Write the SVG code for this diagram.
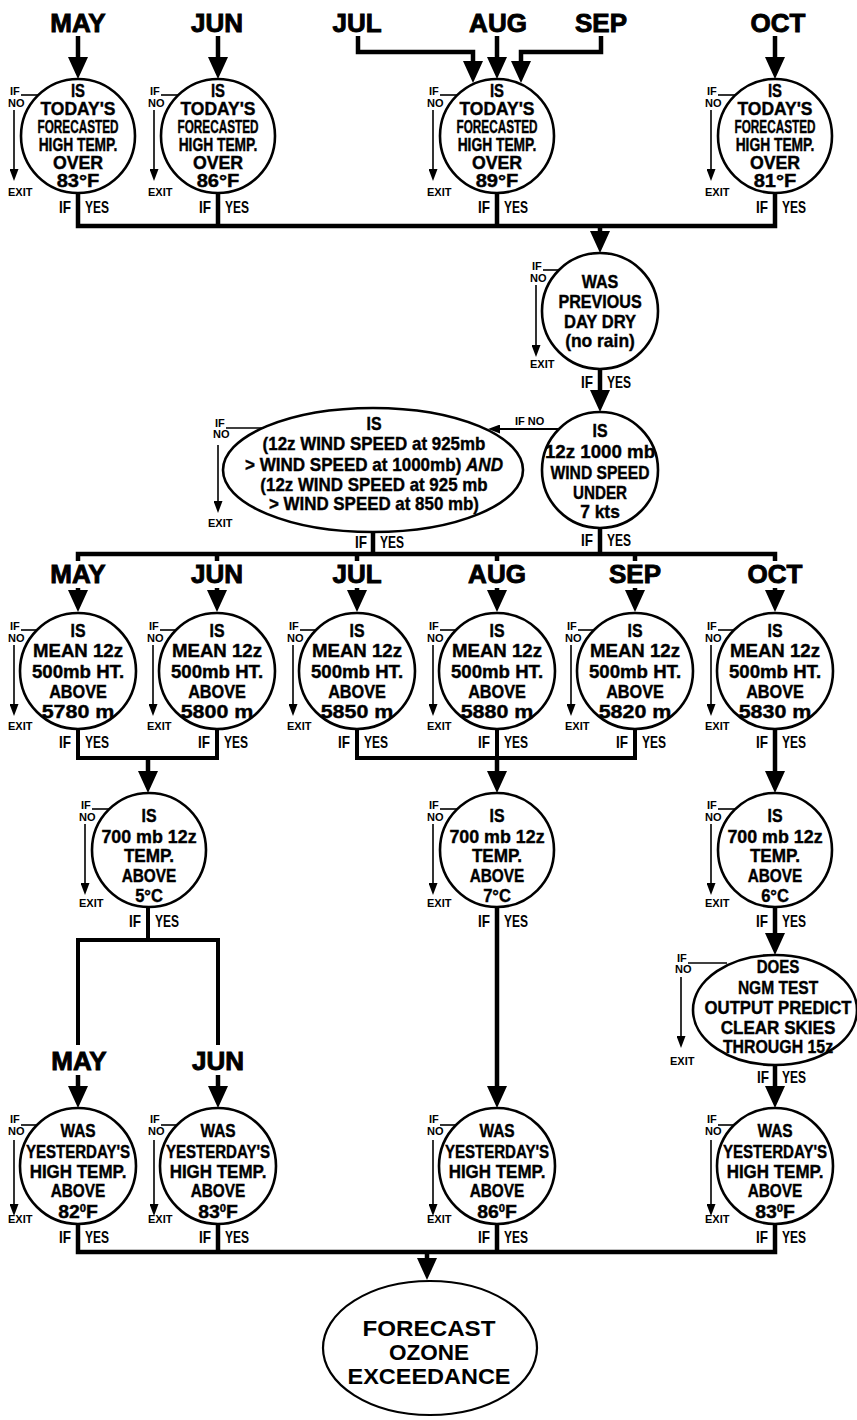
<svg xmlns="http://www.w3.org/2000/svg" width="857" height="1420" viewBox="0 0 857 1420">
<defs>
<style>
text{font-family:"Liberation Sans",Arial,Helvetica,sans-serif;font-weight:bold;fill:#000}
.t{font-size:19px;text-anchor:middle;stroke:#000;stroke-width:0.4}
.tt{font-size:17.5px}
.m{font-size:26px;text-anchor:middle;stroke:#000;stroke-width:0.9}
.s{font-size:11px}
.y{font-size:17px}
.e{text-anchor:end}
.f{font-size:21.5px;text-anchor:middle}
.c{fill:#fff;stroke:#000;stroke-width:2.6}
.c2{fill:#fff;stroke:#000;stroke-width:2.2}
.w{fill:none;stroke:#000;stroke-width:4.5}
.b{fill:none;stroke:#000;stroke-width:4}
.n{fill:none;stroke:#000;stroke-width:1.6}
.sup{font-size:11px}
</style>
<marker id="A" viewBox="0 -10 22 20" refX="14" refY="0" markerWidth="22" markerHeight="20" markerUnits="userSpaceOnUse" orient="auto"><path d="M0,-10 L22,0 L0,10 z" fill="#000"/></marker>
<marker id="a" viewBox="0 -4.5 12 9" refX="8" refY="0" markerWidth="12" markerHeight="9" markerUnits="userSpaceOnUse" orient="auto"><path d="M0,-4.5 L12,0 L0,4.5 z" fill="#000"/></marker>
</defs>
<rect width="857" height="1420" fill="#fff"/>

<g id="months">
<text class="m" x="78" y="32">MAY</text>
<text class="m" x="217" y="32">JUN</text>
<text class="m" x="357" y="32">JUL</text>
<text class="m" x="498" y="32">AUG</text>
<text class="m" x="601" y="32">SEP</text>
<text class="m" x="778" y="32">OCT</text>
<text class="m" x="78" y="583">MAY</text>
<text class="m" x="217" y="583">JUN</text>
<text class="m" x="357" y="583">JUL</text>
<text class="m" x="497" y="583">AUG</text>
<text class="m" x="635" y="583">SEP</text>
<text class="m" x="775" y="583">OCT</text>
<text class="m" x="79" y="1070">MAY</text>
<text class="m" x="218" y="1070">JUN</text>
</g>

<g id="connectors">
<line class="w" x1="78" y1="36" x2="78" y2="71" marker-end="url(#A)"/>
<line class="w" x1="218" y1="36" x2="218" y2="71" marker-end="url(#A)"/>
<line class="w" x1="497" y1="36" x2="497" y2="71" marker-end="url(#A)"/>
<line class="w" x1="775" y1="36" x2="775" y2="71" marker-end="url(#A)"/>
<path class="w" d="M358,36 V52 H473 V75" marker-end="url(#A)"/>
<path class="w" d="M601,36 V52 H521 V75" marker-end="url(#A)"/>
<path class="w" d="M78,193 V226 H775 V193 M218,193 V226 M497,193 V226"/>
<line class="w" x1="600" y1="226" x2="600" y2="245" marker-end="url(#A)"/>
<line class="w" x1="600" y1="369" x2="600" y2="404" marker-end="url(#A)"/>
<line class="n" x1="560" y1="429" x2="492" y2="429" style="stroke-width:2" marker-end="url(#a)"/>
<text class="s" x="515" y="425">IF NO</text>
<path class="w" d="M78,561 V554 H775 V561 M600,528 V554 M373,532 V554 M217,554 V561 M357,554 V561 M497,554 V561 M635,554 V561"/>
<line class="w" x1="78" y1="588" x2="78" y2="604" marker-end="url(#A)"/>
<line class="w" x1="217" y1="588" x2="217" y2="604" marker-end="url(#A)"/>
<line class="w" x1="357" y1="588" x2="357" y2="604" marker-end="url(#A)"/>
<line class="w" x1="497" y1="588" x2="497" y2="604" marker-end="url(#A)"/>
<line class="w" x1="635" y1="588" x2="635" y2="604" marker-end="url(#A)"/>
<line class="w" x1="775" y1="588" x2="775" y2="604" marker-end="url(#A)"/>
<path class="b" d="M78,729 V758 H217 V729 M357,729 V758 H635 V729 M497,729 V758"/>
<line class="w" x1="148" y1="758" x2="148" y2="785" marker-end="url(#A)"/>
<line class="w" x1="497" y1="758" x2="497" y2="785" marker-end="url(#A)"/>
<line class="w" x1="775" y1="729" x2="775" y2="785" marker-end="url(#A)"/>
<path class="b" d="M148,907 V940 M78,1045 V940 H218 V1045"/>
<line class="w" x1="78" y1="1075" x2="78" y2="1100" marker-end="url(#A)"/>
<line class="w" x1="218" y1="1075" x2="218" y2="1100" marker-end="url(#A)"/>
<line class="w" x1="497" y1="907" x2="497" y2="1100" marker-end="url(#A)"/>
<line class="w" x1="775" y1="907" x2="775" y2="947" marker-end="url(#A)"/>
<line class="w" x1="775" y1="1065" x2="775" y2="1100" marker-end="url(#A)"/>
<path class="w" d="M78,1224 V1252 H775 V1224 M218,1224 V1252 M497,1224 V1252"/>
<line class="w" x1="427" y1="1252" x2="427" y2="1272" marker-end="url(#A)"/>
</g>

<g id="q-may-today" transform="translate(78,136)">
<circle class="c" r="57"/>
<g transform="scale(0.75,1)">
<text class="t tt" y="-39" textLength="18.7" lengthAdjust="spacingAndGlyphs">IS</text>
<text class="t tt" y="-21" textLength="100" lengthAdjust="spacingAndGlyphs">TODAY'S</text>
<text class="t tt" y="-3" textLength="108" lengthAdjust="spacingAndGlyphs">FORECASTED</text>
<text class="t tt" y="15" textLength="105" lengthAdjust="spacingAndGlyphs">HIGH TEMP.</text>
<text class="t tt" y="33" textLength="67" lengthAdjust="spacingAndGlyphs">OVER</text>
<text class="t tt" y="51" textLength="57" lengthAdjust="spacingAndGlyphs">83°F</text>
</g>
<text class="s" x="-68" y="-41">IF</text><path class="n" d="M-57,-41 H-39"/>
<text class="s" x="-70" y="-29">NO</text>
<line class="n" x1="-64" y1="-26" x2="-64" y2="41" marker-end="url(#a)"/>
<text class="s" x="-70" y="60">EXIT</text>
<text class="y e" x="-7" y="77" textLength="12" lengthAdjust="spacingAndGlyphs">IF</text>
<text class="y" x="7" y="77" textLength="24" lengthAdjust="spacingAndGlyphs">YES</text>
</g>

<g id="q-jun-today" transform="translate(218,136)">
<circle class="c" r="57"/>
<g transform="scale(0.75,1)">
<text class="t tt" y="-39" textLength="18.7" lengthAdjust="spacingAndGlyphs">IS</text>
<text class="t tt" y="-21" textLength="100" lengthAdjust="spacingAndGlyphs">TODAY'S</text>
<text class="t tt" y="-3" textLength="108" lengthAdjust="spacingAndGlyphs">FORECASTED</text>
<text class="t tt" y="15" textLength="105" lengthAdjust="spacingAndGlyphs">HIGH TEMP.</text>
<text class="t tt" y="33" textLength="67" lengthAdjust="spacingAndGlyphs">OVER</text>
<text class="t tt" y="51" textLength="57" lengthAdjust="spacingAndGlyphs">86°F</text>
</g>
<text class="s" x="-68" y="-41">IF</text><path class="n" d="M-57,-41 H-39"/>
<text class="s" x="-70" y="-29">NO</text>
<line class="n" x1="-64" y1="-26" x2="-64" y2="41" marker-end="url(#a)"/>
<text class="s" x="-70" y="60">EXIT</text>
<text class="y e" x="-7" y="77" textLength="12" lengthAdjust="spacingAndGlyphs">IF</text>
<text class="y" x="7" y="77" textLength="24" lengthAdjust="spacingAndGlyphs">YES</text>
</g>

<g id="q-julsep-today" transform="translate(497,136)">
<circle class="c" r="57"/>
<g transform="scale(0.75,1)">
<text class="t tt" y="-39" textLength="18.7" lengthAdjust="spacingAndGlyphs">IS</text>
<text class="t tt" y="-21" textLength="100" lengthAdjust="spacingAndGlyphs">TODAY'S</text>
<text class="t tt" y="-3" textLength="108" lengthAdjust="spacingAndGlyphs">FORECASTED</text>
<text class="t tt" y="15" textLength="105" lengthAdjust="spacingAndGlyphs">HIGH TEMP.</text>
<text class="t tt" y="33" textLength="67" lengthAdjust="spacingAndGlyphs">OVER</text>
<text class="t tt" y="51" textLength="57" lengthAdjust="spacingAndGlyphs">89°F</text>
</g>
<text class="s" x="-68" y="-41">IF</text><path class="n" d="M-57,-41 H-39"/>
<text class="s" x="-70" y="-29">NO</text>
<line class="n" x1="-64" y1="-26" x2="-64" y2="41" marker-end="url(#a)"/>
<text class="s" x="-70" y="60">EXIT</text>
<text class="y e" x="-7" y="77" textLength="12" lengthAdjust="spacingAndGlyphs">IF</text>
<text class="y" x="7" y="77" textLength="24" lengthAdjust="spacingAndGlyphs">YES</text>
</g>

<g id="q-oct-today" transform="translate(775,136)">
<circle class="c" r="57"/>
<g transform="scale(0.75,1)">
<text class="t tt" y="-39" textLength="18.7" lengthAdjust="spacingAndGlyphs">IS</text>
<text class="t tt" y="-21" textLength="100" lengthAdjust="spacingAndGlyphs">TODAY'S</text>
<text class="t tt" y="-3" textLength="108" lengthAdjust="spacingAndGlyphs">FORECASTED</text>
<text class="t tt" y="15" textLength="105" lengthAdjust="spacingAndGlyphs">HIGH TEMP.</text>
<text class="t tt" y="33" textLength="67" lengthAdjust="spacingAndGlyphs">OVER</text>
<text class="t tt" y="51" textLength="57" lengthAdjust="spacingAndGlyphs">81°F</text>
</g>
<text class="s" x="-68" y="-41">IF</text><path class="n" d="M-57,-41 H-39"/>
<text class="s" x="-70" y="-29">NO</text>
<line class="n" x1="-64" y1="-26" x2="-64" y2="41" marker-end="url(#a)"/>
<text class="s" x="-70" y="60">EXIT</text>
<text class="y e" x="-7" y="77" textLength="12" lengthAdjust="spacingAndGlyphs">IF</text>
<text class="y" x="7" y="77" textLength="24" lengthAdjust="spacingAndGlyphs">YES</text>
</g>

<g id="q-dry" transform="translate(600,311)">
<circle class="c" r="58"/>
<g transform="scale(0.75,1)">
<text class="t" y="-23" textLength="49" lengthAdjust="spacingAndGlyphs">WAS</text>
<text class="t" y="-3" textLength="111" lengthAdjust="spacingAndGlyphs">PREVIOUS</text>
<text class="t" y="17" textLength="96" lengthAdjust="spacingAndGlyphs">DAY DRY</text>
<text class="t" y="36" textLength="93" lengthAdjust="spacingAndGlyphs">(no rain)</text>
</g>
<text class="s" x="-68" y="-41">IF</text><path class="n" d="M-57,-41 H-40"/>
<text class="s" x="-70" y="-29">NO</text>
<line class="n" x1="-64" y1="-26" x2="-64" y2="42" marker-end="url(#a)"/>
<text class="s" x="-70" y="57">EXIT</text>
<text class="y e" x="-7" y="77" textLength="12" lengthAdjust="spacingAndGlyphs">IF</text>
<text class="y" x="7" y="77" textLength="24" lengthAdjust="spacingAndGlyphs">YES</text>
</g>

<g id="q-wind1000" transform="translate(600,470)">
<circle class="c" r="58"/>
<g transform="scale(0.75,1)">
<text class="t" y="-33" textLength="20" lengthAdjust="spacingAndGlyphs">IS</text>
<text class="t" y="-12" textLength="147" lengthAdjust="spacingAndGlyphs">12z 1000 mb</text>
<text class="t" y="9" textLength="132" lengthAdjust="spacingAndGlyphs">WIND SPEED</text>
<text class="t" y="29" textLength="72" lengthAdjust="spacingAndGlyphs">UNDER</text>
<text class="t" y="48" textLength="53" lengthAdjust="spacingAndGlyphs">7 kts</text>
</g>
<text class="y e" x="-7" y="76" textLength="12" lengthAdjust="spacingAndGlyphs">IF</text>
<text class="y" x="7" y="76" textLength="24" lengthAdjust="spacingAndGlyphs">YES</text>
</g>

<g id="q-wind-profile" transform="translate(373,470)">
<ellipse class="c" rx="150" ry="62"/>
<g transform="scale(0.75,1)">
<text class="t" x="1.3" y="-40" textLength="20" lengthAdjust="spacingAndGlyphs">IS</text>
<text class="t" x="1.3" y="-20" textLength="297" lengthAdjust="spacingAndGlyphs">(12z WIND SPEED at 925mb</text>
<text class="t" x="1.3" y="1" textLength="344" lengthAdjust="spacingAndGlyphs">&gt; WIND SPEED at 1000mb) <tspan font-style="italic">AND</tspan></text>
<text class="t" x="1.3" y="21" textLength="303" lengthAdjust="spacingAndGlyphs">(12z WIND SPEED at 925 mb</text>
<text class="t" x="1.3" y="40" textLength="280" lengthAdjust="spacingAndGlyphs">&gt; WIND SPEED at 850 mb)</text>
</g>
<text class="s" x="-158" y="-43">IF</text><path class="n" d="M-147,-42 H-109"/>
<text class="s" x="-160" y="-32">NO</text>
<line class="n" x1="-155" y1="-25" x2="-155" y2="39" marker-end="url(#a)"/>
<text class="s" x="-165" y="57">EXIT</text>
<text class="y e" x="-6" y="78" textLength="12" lengthAdjust="spacingAndGlyphs">IF</text>
<text class="y" x="7" y="78" textLength="24" lengthAdjust="spacingAndGlyphs">YES</text>
</g>

<g id="q-500-may" transform="translate(78,671)">
<circle class="c" r="58"/>
<g transform="scale(0.75,1)">
<text class="t" y="-34" textLength="20" lengthAdjust="spacingAndGlyphs">IS</text>
<text class="t" y="-14" textLength="120" lengthAdjust="spacingAndGlyphs">MEAN 12z</text>
<text class="t" y="7" textLength="123" lengthAdjust="spacingAndGlyphs">500mb HT.</text>
<text class="t" y="27" textLength="77" lengthAdjust="spacingAndGlyphs">ABOVE</text>
<text class="t" y="47" textLength="97" lengthAdjust="spacingAndGlyphs">5780 m</text>
</g>
<text class="s" x="-68" y="-41">IF</text><path class="n" d="M-57,-41 H-40"/>
<text class="s" x="-70" y="-29">NO</text>
<line class="n" x1="-64" y1="-26" x2="-64" y2="41" marker-end="url(#a)"/>
<text class="s" x="-70" y="59">EXIT</text>
<text class="y e" x="-7" y="77" textLength="12" lengthAdjust="spacingAndGlyphs">IF</text>
<text class="y" x="7" y="77" textLength="24" lengthAdjust="spacingAndGlyphs">YES</text>
</g>

<g id="q-500-jun" transform="translate(217,671)">
<circle class="c" r="58"/>
<g transform="scale(0.75,1)">
<text class="t" y="-34" textLength="20" lengthAdjust="spacingAndGlyphs">IS</text>
<text class="t" y="-14" textLength="120" lengthAdjust="spacingAndGlyphs">MEAN 12z</text>
<text class="t" y="7" textLength="123" lengthAdjust="spacingAndGlyphs">500mb HT.</text>
<text class="t" y="27" textLength="77" lengthAdjust="spacingAndGlyphs">ABOVE</text>
<text class="t" y="47" textLength="97" lengthAdjust="spacingAndGlyphs">5800 m</text>
</g>
<text class="s" x="-68" y="-41">IF</text><path class="n" d="M-57,-41 H-40"/>
<text class="s" x="-70" y="-29">NO</text>
<line class="n" x1="-64" y1="-26" x2="-64" y2="41" marker-end="url(#a)"/>
<text class="s" x="-70" y="59">EXIT</text>
<text class="y e" x="-7" y="77" textLength="12" lengthAdjust="spacingAndGlyphs">IF</text>
<text class="y" x="7" y="77" textLength="24" lengthAdjust="spacingAndGlyphs">YES</text>
</g>

<g id="q-500-jul" transform="translate(357,671)">
<circle class="c" r="58"/>
<g transform="scale(0.75,1)">
<text class="t" y="-34" textLength="20" lengthAdjust="spacingAndGlyphs">IS</text>
<text class="t" y="-14" textLength="120" lengthAdjust="spacingAndGlyphs">MEAN 12z</text>
<text class="t" y="7" textLength="123" lengthAdjust="spacingAndGlyphs">500mb HT.</text>
<text class="t" y="27" textLength="77" lengthAdjust="spacingAndGlyphs">ABOVE</text>
<text class="t" y="47" textLength="97" lengthAdjust="spacingAndGlyphs">5850 m</text>
</g>
<text class="s" x="-68" y="-41">IF</text><path class="n" d="M-57,-41 H-40"/>
<text class="s" x="-70" y="-29">NO</text>
<line class="n" x1="-64" y1="-26" x2="-64" y2="41" marker-end="url(#a)"/>
<text class="s" x="-70" y="59">EXIT</text>
<text class="y e" x="-7" y="77" textLength="12" lengthAdjust="spacingAndGlyphs">IF</text>
<text class="y" x="7" y="77" textLength="24" lengthAdjust="spacingAndGlyphs">YES</text>
</g>

<g id="q-500-aug" transform="translate(497,671)">
<circle class="c" r="58"/>
<g transform="scale(0.75,1)">
<text class="t" y="-34" textLength="20" lengthAdjust="spacingAndGlyphs">IS</text>
<text class="t" y="-14" textLength="120" lengthAdjust="spacingAndGlyphs">MEAN 12z</text>
<text class="t" y="7" textLength="123" lengthAdjust="spacingAndGlyphs">500mb HT.</text>
<text class="t" y="27" textLength="77" lengthAdjust="spacingAndGlyphs">ABOVE</text>
<text class="t" y="47" textLength="97" lengthAdjust="spacingAndGlyphs">5880 m</text>
</g>
<text class="s" x="-68" y="-41">IF</text><path class="n" d="M-57,-41 H-40"/>
<text class="s" x="-70" y="-29">NO</text>
<line class="n" x1="-64" y1="-26" x2="-64" y2="41" marker-end="url(#a)"/>
<text class="s" x="-70" y="59">EXIT</text>
<text class="y e" x="-7" y="77" textLength="12" lengthAdjust="spacingAndGlyphs">IF</text>
<text class="y" x="7" y="77" textLength="24" lengthAdjust="spacingAndGlyphs">YES</text>
</g>

<g id="q-500-sep" transform="translate(635,671)">
<circle class="c" r="58"/>
<g transform="scale(0.75,1)">
<text class="t" y="-34" textLength="20" lengthAdjust="spacingAndGlyphs">IS</text>
<text class="t" y="-14" textLength="120" lengthAdjust="spacingAndGlyphs">MEAN 12z</text>
<text class="t" y="7" textLength="123" lengthAdjust="spacingAndGlyphs">500mb HT.</text>
<text class="t" y="27" textLength="77" lengthAdjust="spacingAndGlyphs">ABOVE</text>
<text class="t" y="47" textLength="97" lengthAdjust="spacingAndGlyphs">5820 m</text>
</g>
<text class="s" x="-68" y="-41">IF</text><path class="n" d="M-57,-41 H-40"/>
<text class="s" x="-70" y="-29">NO</text>
<line class="n" x1="-64" y1="-26" x2="-64" y2="41" marker-end="url(#a)"/>
<text class="s" x="-70" y="59">EXIT</text>
<text class="y e" x="-7" y="77" textLength="12" lengthAdjust="spacingAndGlyphs">IF</text>
<text class="y" x="7" y="77" textLength="24" lengthAdjust="spacingAndGlyphs">YES</text>
</g>

<g id="q-500-oct" transform="translate(775,671)">
<circle class="c" r="58"/>
<g transform="scale(0.75,1)">
<text class="t" y="-34" textLength="20" lengthAdjust="spacingAndGlyphs">IS</text>
<text class="t" y="-14" textLength="120" lengthAdjust="spacingAndGlyphs">MEAN 12z</text>
<text class="t" y="7" textLength="123" lengthAdjust="spacingAndGlyphs">500mb HT.</text>
<text class="t" y="27" textLength="77" lengthAdjust="spacingAndGlyphs">ABOVE</text>
<text class="t" y="47" textLength="97" lengthAdjust="spacingAndGlyphs">5830 m</text>
</g>
<text class="s" x="-68" y="-41">IF</text><path class="n" d="M-57,-41 H-40"/>
<text class="s" x="-70" y="-29">NO</text>
<line class="n" x1="-64" y1="-26" x2="-64" y2="41" marker-end="url(#a)"/>
<text class="s" x="-70" y="59">EXIT</text>
<text class="y e" x="-7" y="77" textLength="12" lengthAdjust="spacingAndGlyphs">IF</text>
<text class="y" x="7" y="77" textLength="24" lengthAdjust="spacingAndGlyphs">YES</text>
</g>

<g id="q-700-mayjun" transform="translate(149,850)">
<circle class="c" r="57"/>
<g transform="scale(0.75,1)">
<text class="t" y="-28" textLength="20" lengthAdjust="spacingAndGlyphs">IS</text>
<text class="t" y="-7" textLength="127" lengthAdjust="spacingAndGlyphs">700 mb 12z</text>
<text class="t" y="12" textLength="67" lengthAdjust="spacingAndGlyphs">TEMP.</text>
<text class="t" y="32" textLength="73" lengthAdjust="spacingAndGlyphs">ABOVE</text>
<text class="t" y="52" textLength="37" lengthAdjust="spacingAndGlyphs">5°C</text>
</g>
<text class="s" x="-68" y="-41">IF</text><path class="n" d="M-57,-41 H-39"/>
<text class="s" x="-70" y="-29">NO</text>
<line class="n" x1="-64" y1="-26" x2="-64" y2="41" marker-end="url(#a)"/>
<text class="s" x="-70" y="57">EXIT</text>
<text class="y e" x="-8" y="77" textLength="12" lengthAdjust="spacingAndGlyphs">IF</text>
<text class="y" x="6" y="77" textLength="24" lengthAdjust="spacingAndGlyphs">YES</text>
</g>

<g id="q-700-julsep" transform="translate(497,850)">
<circle class="c" r="57"/>
<g transform="scale(0.75,1)">
<text class="t" y="-28" textLength="20" lengthAdjust="spacingAndGlyphs">IS</text>
<text class="t" y="-7" textLength="127" lengthAdjust="spacingAndGlyphs">700 mb 12z</text>
<text class="t" y="12" textLength="67" lengthAdjust="spacingAndGlyphs">TEMP.</text>
<text class="t" y="32" textLength="73" lengthAdjust="spacingAndGlyphs">ABOVE</text>
<text class="t" y="52" textLength="37" lengthAdjust="spacingAndGlyphs">7°C</text>
</g>
<text class="s" x="-68" y="-41">IF</text><path class="n" d="M-57,-41 H-39"/>
<text class="s" x="-70" y="-29">NO</text>
<line class="n" x1="-64" y1="-26" x2="-64" y2="41" marker-end="url(#a)"/>
<text class="s" x="-70" y="57">EXIT</text>
<text class="y e" x="-7" y="77" textLength="12" lengthAdjust="spacingAndGlyphs">IF</text>
<text class="y" x="7" y="77" textLength="24" lengthAdjust="spacingAndGlyphs">YES</text>
</g>

<g id="q-700-oct" transform="translate(775,850)">
<circle class="c" r="57"/>
<g transform="scale(0.75,1)">
<text class="t" y="-28" textLength="20" lengthAdjust="spacingAndGlyphs">IS</text>
<text class="t" y="-7" textLength="127" lengthAdjust="spacingAndGlyphs">700 mb 12z</text>
<text class="t" y="12" textLength="67" lengthAdjust="spacingAndGlyphs">TEMP.</text>
<text class="t" y="32" textLength="73" lengthAdjust="spacingAndGlyphs">ABOVE</text>
<text class="t" y="52" textLength="37" lengthAdjust="spacingAndGlyphs">6°C</text>
</g>
<text class="s" x="-68" y="-41">IF</text><path class="n" d="M-57,-41 H-39"/>
<text class="s" x="-70" y="-29">NO</text>
<line class="n" x1="-64" y1="-26" x2="-64" y2="41" marker-end="url(#a)"/>
<text class="s" x="-70" y="57">EXIT</text>
<text class="y e" x="-7" y="77" textLength="12" lengthAdjust="spacingAndGlyphs">IF</text>
<text class="y" x="7" y="77" textLength="24" lengthAdjust="spacingAndGlyphs">YES</text>
</g>

<g id="q-ngm" transform="translate(775,1010)">
<ellipse class="c" rx="82" ry="55"/>
<g transform="scale(0.75,1)">
<text class="t" x="4" y="-37" textLength="57" lengthAdjust="spacingAndGlyphs">DOES</text>
<text class="t" x="4" y="-16" textLength="107" lengthAdjust="spacingAndGlyphs">NGM TEST</text>
<text class="t" x="4" y="4" textLength="196" lengthAdjust="spacingAndGlyphs">OUTPUT PREDICT</text>
<text class="t" x="4" y="24" textLength="153" lengthAdjust="spacingAndGlyphs">CLEAR SKIES</text>
<text class="t" x="4" y="43" textLength="147" lengthAdjust="spacingAndGlyphs">THROUGH 15z</text>
</g>
<text class="s" x="-98" y="-48">IF</text><path class="n" d="M-87,-47 H-48"/>
<text class="s" x="-100" y="-37">NO</text>
<line class="n" x1="-94" y1="-33" x2="-94" y2="34" marker-end="url(#a)"/>
<text class="s" x="-105" y="55">EXIT</text>
<text class="y e" x="-6" y="73" textLength="12" lengthAdjust="spacingAndGlyphs">IF</text>
<text class="y" x="7" y="73" textLength="24" lengthAdjust="spacingAndGlyphs">YES</text>
</g>

<g id="q-yday-may" transform="translate(78,1166)">
<circle class="c" r="58"/>
<g transform="scale(0.75,1)">
<text class="t" y="-29" textLength="47" lengthAdjust="spacingAndGlyphs">WAS</text>
<text class="t" y="-8" textLength="139" lengthAdjust="spacingAndGlyphs">YESTERDAY'S</text>
<text class="t" y="12" textLength="129" lengthAdjust="spacingAndGlyphs">HIGH TEMP.</text>
<text class="t" y="31" textLength="73" lengthAdjust="spacingAndGlyphs">ABOVE</text>
<text class="t" y="52" textLength="53" lengthAdjust="spacingAndGlyphs">82<tspan class="sup" dy="-5.5">0</tspan><tspan dy="5.5">F</tspan></text>
</g>
<text class="s" x="-68" y="-43">IF</text><path class="n" d="M-57,-41 H-40"/>
<text class="s" x="-70" y="-31">NO</text>
<line class="n" x1="-64" y1="-26" x2="-64" y2="46" marker-end="url(#a)"/>
<text class="s" x="-70" y="57">EXIT</text>
<text class="y e" x="-7" y="77" textLength="12" lengthAdjust="spacingAndGlyphs">IF</text>
<text class="y" x="7" y="77" textLength="24" lengthAdjust="spacingAndGlyphs">YES</text>
</g>

<g id="q-yday-jun" transform="translate(218,1166)">
<circle class="c" r="58"/>
<g transform="scale(0.75,1)">
<text class="t" y="-29" textLength="47" lengthAdjust="spacingAndGlyphs">WAS</text>
<text class="t" y="-8" textLength="139" lengthAdjust="spacingAndGlyphs">YESTERDAY'S</text>
<text class="t" y="12" textLength="129" lengthAdjust="spacingAndGlyphs">HIGH TEMP.</text>
<text class="t" y="31" textLength="73" lengthAdjust="spacingAndGlyphs">ABOVE</text>
<text class="t" y="52" textLength="53" lengthAdjust="spacingAndGlyphs">83<tspan class="sup" dy="-5.5">0</tspan><tspan dy="5.5">F</tspan></text>
</g>
<text class="s" x="-68" y="-43">IF</text><path class="n" d="M-57,-41 H-40"/>
<text class="s" x="-70" y="-31">NO</text>
<line class="n" x1="-64" y1="-26" x2="-64" y2="46" marker-end="url(#a)"/>
<text class="s" x="-70" y="57">EXIT</text>
<text class="y e" x="-7" y="77" textLength="12" lengthAdjust="spacingAndGlyphs">IF</text>
<text class="y" x="7" y="77" textLength="24" lengthAdjust="spacingAndGlyphs">YES</text>
</g>

<g id="q-yday-julsep" transform="translate(497,1166)">
<circle class="c" r="58"/>
<g transform="scale(0.75,1)">
<text class="t" y="-29" textLength="47" lengthAdjust="spacingAndGlyphs">WAS</text>
<text class="t" y="-8" textLength="139" lengthAdjust="spacingAndGlyphs">YESTERDAY'S</text>
<text class="t" y="12" textLength="129" lengthAdjust="spacingAndGlyphs">HIGH TEMP.</text>
<text class="t" y="31" textLength="73" lengthAdjust="spacingAndGlyphs">ABOVE</text>
<text class="t" y="52" textLength="53" lengthAdjust="spacingAndGlyphs">86<tspan class="sup" dy="-5.5">0</tspan><tspan dy="5.5">F</tspan></text>
</g>
<text class="s" x="-68" y="-43">IF</text><path class="n" d="M-57,-41 H-40"/>
<text class="s" x="-70" y="-31">NO</text>
<line class="n" x1="-64" y1="-26" x2="-64" y2="46" marker-end="url(#a)"/>
<text class="s" x="-70" y="57">EXIT</text>
<text class="y e" x="-7" y="77" textLength="12" lengthAdjust="spacingAndGlyphs">IF</text>
<text class="y" x="7" y="77" textLength="24" lengthAdjust="spacingAndGlyphs">YES</text>
</g>

<g id="q-yday-oct" transform="translate(775,1166)">
<circle class="c" r="58"/>
<g transform="scale(0.75,1)">
<text class="t" y="-29" textLength="47" lengthAdjust="spacingAndGlyphs">WAS</text>
<text class="t" y="-8" textLength="139" lengthAdjust="spacingAndGlyphs">YESTERDAY'S</text>
<text class="t" y="12" textLength="129" lengthAdjust="spacingAndGlyphs">HIGH TEMP.</text>
<text class="t" y="31" textLength="73" lengthAdjust="spacingAndGlyphs">ABOVE</text>
<text class="t" y="52" textLength="53" lengthAdjust="spacingAndGlyphs">83<tspan class="sup" dy="-5.5">0</tspan><tspan dy="5.5">F</tspan></text>
</g>
<text class="s" x="-68" y="-43">IF</text><path class="n" d="M-57,-41 H-40"/>
<text class="s" x="-70" y="-31">NO</text>
<line class="n" x1="-64" y1="-26" x2="-64" y2="46" marker-end="url(#a)"/>
<text class="s" x="-70" y="57">EXIT</text>
<text class="y e" x="-7" y="77" textLength="12" lengthAdjust="spacingAndGlyphs">IF</text>
<text class="y" x="7" y="77" textLength="24" lengthAdjust="spacingAndGlyphs">YES</text>
</g>

<g id="forecast-exceedance" transform="translate(430,1348)">
<ellipse class="c2" rx="107" ry="67"/>
<text class="f" x="-1" y="-12" textLength="133" lengthAdjust="spacingAndGlyphs">FORECAST</text>
<text class="f" x="-1" y="12" textLength="80" lengthAdjust="spacingAndGlyphs">OZONE</text>
<text class="f" x="-1" y="36" textLength="163" lengthAdjust="spacingAndGlyphs">EXCEEDANCE</text>
</g>
</svg>
